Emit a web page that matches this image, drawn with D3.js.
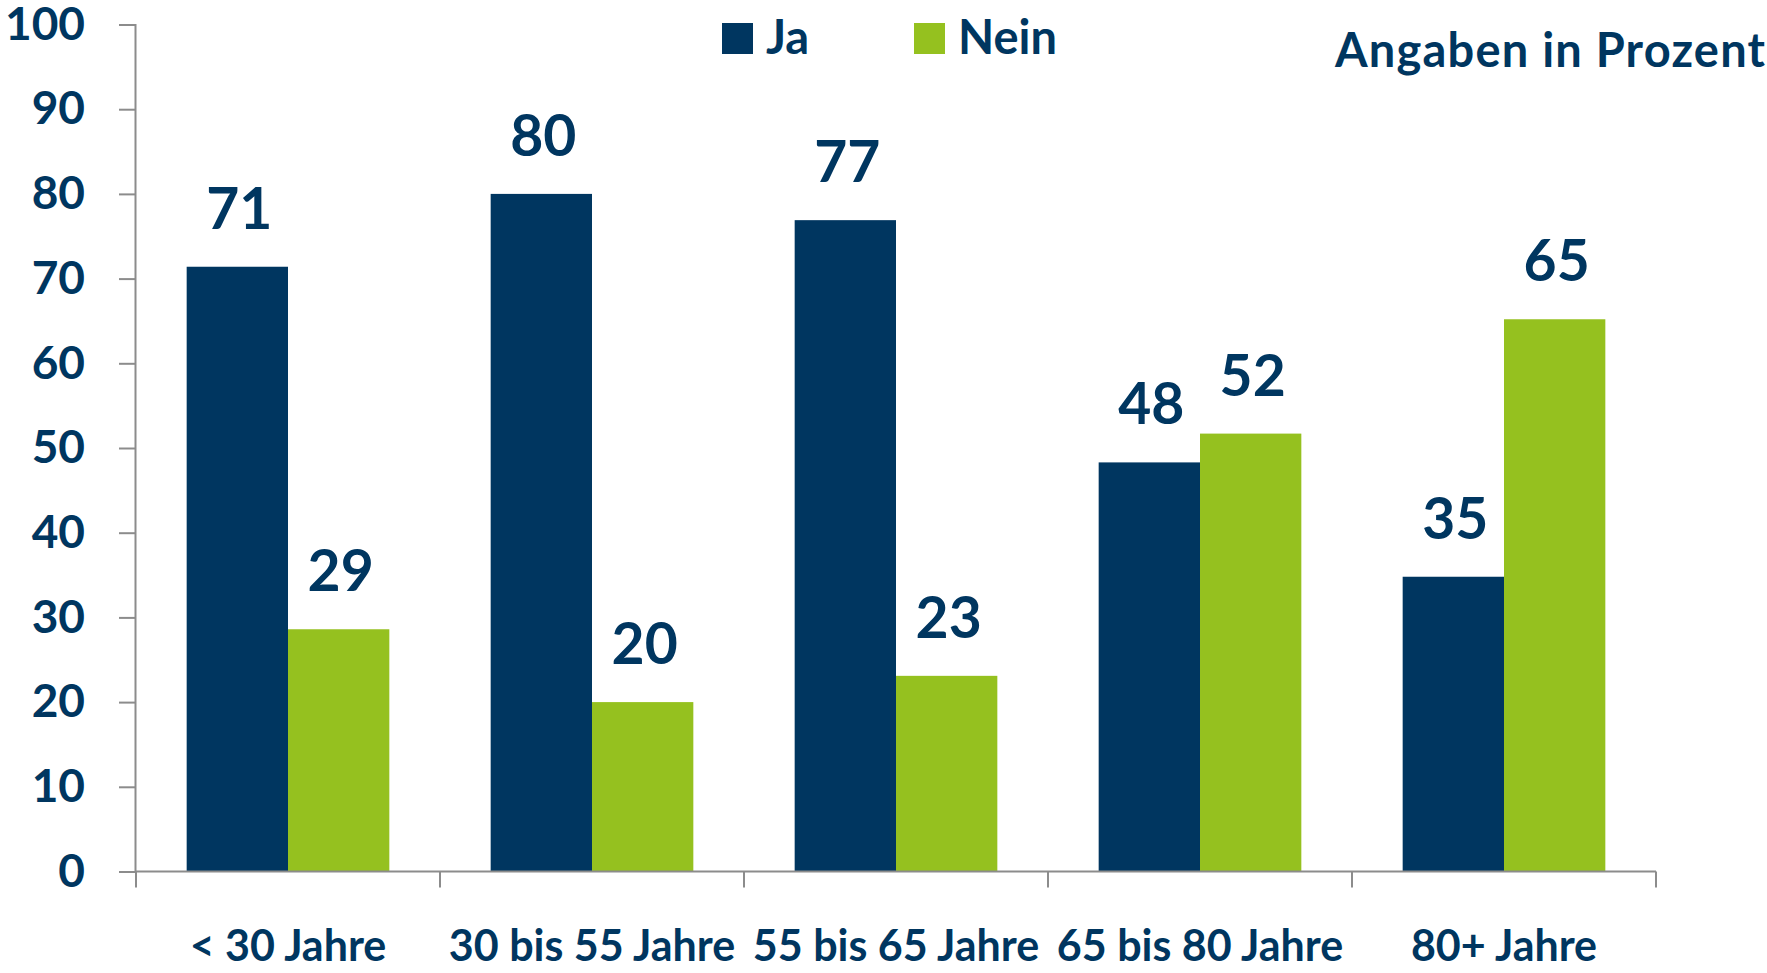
<!DOCTYPE html>
<html>
<head>
<meta charset="utf-8">
<script src="https://cdn.jsdelivr.net/npm/d3@7"></script>
<style>
  body { margin: 0; background: #fff; }
  text { font-family: Lato, "Open Sans", sans-serif; font-weight: 700; fill: #003660; }
</style>
</head>
<body>
<div id="chart"></div>
<script>
// Data
const categories = ['< 30 Jahre', '30 bis 55 Jahre', '55 bis 65 Jahre', '65 bis 80 Jahre', '80+ Jahre'];
const series = ['Ja', 'Nein'];
const jaValues = [71.4, 80, 76.9, 48.3, 34.8];
const neinValues = [28.6, 20, 23.1, 51.7, 65.2];
const jaLabels = ['71', '80', '77', '48', '35'];
const neinLabels = ['29', '20', '23', '52', '65'];
const yTicks = [0, 10, 20, 30, 40, 50, 60, 70, 80, 90, 100];

const colors = { 'Ja': '#003660', 'Nein': '#95c11f' };
const axisColor = '#8c8c8c';

const W = 1767, H = 973;
const margin = { top: 24.5, right: 111, bottom: 101.5, left: 135 };

const svg = d3.select('#chart')
    .append('svg')
    .attr('width', W)
    .attr('height', H);

// Scales
const x = d3.scaleBand()
    .domain(categories)
    .range([margin.left + 1, W - margin.right])
    .padding(0);

const xInner = d3.scaleBand()
    .domain(series)
    .range([0, x.bandwidth()])
    .paddingInner(0)
    .paddingOuter(0.5);

const y = d3.scaleLinear()
    .domain([0, 100])
    .range([H - margin.bottom, margin.top]);

// Build rows
const rows = categories.map((c, i) => ({
    cat: c,
    values: [
        { key: 'Ja', value: jaValues[i], label: jaLabels[i] },
        { key: 'Nein', value: neinValues[i], label: neinLabels[i] }
    ]
}));

// Bars
const groups = svg.append('g')
    .selectAll('g')
    .data(rows)
    .join('g')
    .attr('transform', d => `translate(${x(d.cat)}, 0)`);

groups.selectAll('rect')
    .data(d => d.values)
    .join('rect')
    .attr('x', d => xInner(d.key))
    .attr('y', d => y(d.value))
    .attr('width', xInner.bandwidth())
    .attr('height', d => y(0) - y(d.value))
    .attr('fill', d => colors[d.key]);

// Value labels
groups.selectAll('text.val')
    .data(d => d.values)
    .join('text')
    .attr('class', 'val')
    .attr('x', d => xInner(d.key) + xInner.bandwidth() / 2 + 2)
    .attr('y', d => y(d.value) - 38)
    .attr('text-anchor', 'middle')
    .style('font-size', '57px')
    .text(d => d.label);

// Y axis
const yAxis = svg.append('g')
    .attr('transform', `translate(${margin.left}, 0)`)
    .call(d3.axisLeft(y).tickValues(yTicks).tickSize(16).tickPadding(34));
yAxis.select('.domain').attr('stroke', axisColor).attr('stroke-width', 2);
yAxis.selectAll('.tick line').attr('stroke', axisColor).attr('stroke-width', 2);
yAxis.selectAll('.tick text')
    .attr('fill', '#003660')
    .style('font-size', '46px')
    .style('font-family', 'Lato, "Open Sans", sans-serif')
    .style('font-weight', 700);

// X axis line and boundary ticks
const xAxis = svg.append('g');
xAxis.append('line')
    .attr('x1', margin.left)
    .attr('x2', x.range()[1])
    .attr('y1', y(0))
    .attr('y2', y(0))
    .attr('stroke', axisColor)
    .attr('stroke-width', 2);

const boundaries = categories.map(c => x(c)).concat([x.range()[1]]);
xAxis.selectAll('line.tick')
    .data(boundaries)
    .join('line')
    .attr('class', 'tick')
    .attr('x1', d => d)
    .attr('x2', d => d)
    .attr('y1', y(0))
    .attr('y2', y(0) + 16)
    .attr('stroke', axisColor)
    .attr('stroke-width', 2);

xAxis.selectAll('text')
    .data(categories)
    .join('text')
    .attr('x', d => x(d) + x.bandwidth() / 2)
    .attr('y', 961)
    .attr('text-anchor', 'middle')
    .style('font-size', '43px')
    .text(d => d);

// Legend
const legendX = [722, 914];
const legend = svg.append('g')
    .selectAll('g')
    .data(series)
    .join('g')
    .attr('transform', (d, i) => `translate(${legendX[i]}, 23)`);
legend.append('rect')
    .attr('width', 31)
    .attr('height', 31)
    .attr('fill', d => colors[d]);
legend.append('text')
    .attr('x', 44)
    .attr('y', 31)
    .style('font-size', '47px')
    .text(d => d);

// Note
svg.append('text')
    .attr('x', 1765)
    .attr('y', 66.5)
    .attr('text-anchor', 'end')
    .attr('textLength', 430)
    .attr('lengthAdjust', 'spacing')
    .style('font-size', '47px')
    .text('Angaben in Prozent');
</script>
</body>
</html>
